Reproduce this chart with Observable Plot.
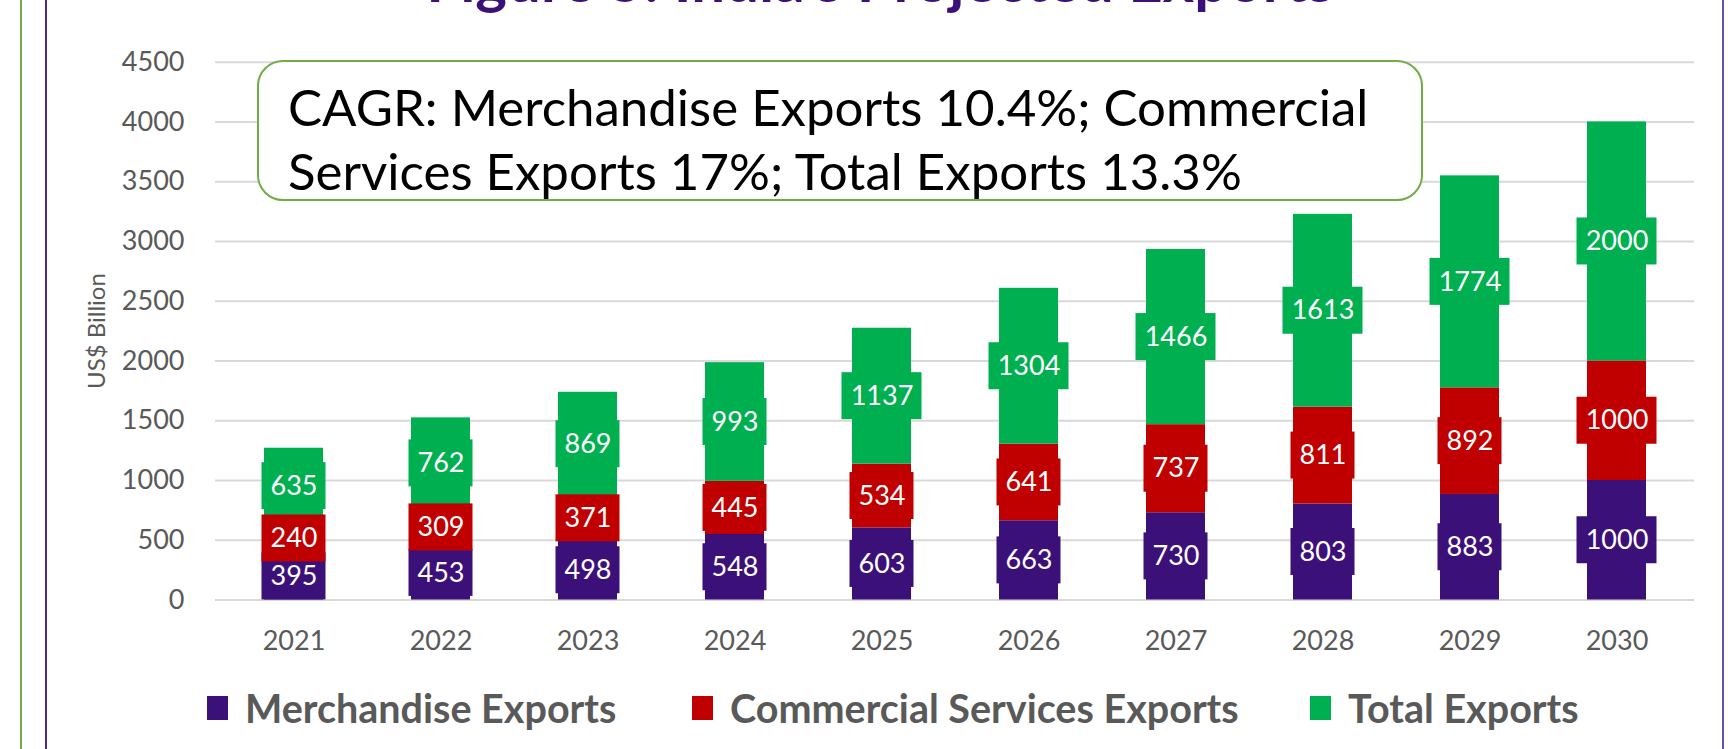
<!DOCTYPE html>
<html>
<head>
<meta charset="utf-8">
<script src="https://cdn.jsdelivr.net/npm/d3@7"></script>
<script src="https://cdn.jsdelivr.net/npm/@observablehq/plot@0.6"></script>
<style>
  html, body { margin: 0; padding: 0; background: #fff; }
  #wrap { position: relative; width: 1736px; height: 749px; overflow: hidden; font-family: Lato, "Open Sans", sans-serif; background: #fff; }
  #chart { position: absolute; left: 0; top: 0; }
  #title { position: absolute; left: 380px; width: 1000px; top: -51px; text-align: center; font: 700 60px/1 Lato, sans-serif; color: #3B1179; white-space: nowrap; }
  #note { position: absolute; left: 257px; top: 60px; width: 1162px; height: 137px; border: 2px solid #70AD47; border-radius: 26px; background: #fff; box-sizing: content-box; }
  #note .l { position: absolute; left: 29px; font: 400 51px/64px Lato, sans-serif; color: #000; white-space: nowrap; }
  .legend-item { position: absolute; top: 688px; height: 40px; display: flex; align-items: center; font: 700 39.5px/40px Lato, sans-serif; color: #595959; white-space: nowrap; }
  .legend-item .sw { width: 21px; height: 24px; margin-right: 17px; flex: none; }
  .vline { position: absolute; top: 0; height: 749px; width: 2px; }
</style>
</head>
<body>
<div id="wrap">
  <div id="chart"></div>
  <div id="title">Figure 5: India's Projected Exports</div>
  <div id="note"></div>
  <div id="legend"></div>
  <div class="vline" style="left:20px;background:#70AD47"></div>
  <div class="vline" style="left:45px;background:#4B2A92"></div>
  <div class="vline" style="left:1722px;background:#6A50AE"></div>
</div>
<script>
// ---- data ----
const years = ["2021", "2022", "2023", "2024", "2025", "2026", "2027", "2028", "2029", "2030"];
const seriesNames = ["Merchandise Exports", "Commercial Services Exports", "Total Exports"];
const merchandise = [395, 453, 498, 548, 603, 663, 730, 803, 883, 1000];
const commercial = [240, 309, 371, 445, 534, 641, 737, 811, 892, 1000];
const totalExports = [635, 762, 869, 993, 1137, 1304, 1466, 1613, 1774, 2000];
const yTicks = [0, 500, 1000, 1500, 2000, 2500, 3000, 3500, 4000, 4500];
const seriesColors = ["#3B1179", "#C00000", "#00B050"];
const noteLines = ["CAGR: Merchandise Exports 10.4%; Commercial", "Services Exports 17%; Total Exports 13.3%"];
const yLabel = "US$ Billion";

// ---- build stacked table ----
const seriesValues = [merchandise, commercial, totalExports];
const rows = [];
years.forEach((yr, i) => {
  let cum = 0;
  seriesNames.forEach((s, k) => {
    const v = seriesValues[k][i];
    rows.push({year: yr, series: s, value: v, y1: cum, y2: cum + v, mid: cum + v / 2});
    cum += v;
  });
});

// label boxes: one mark per series and label width class (drawn in series order)
const boxMarks = [];
seriesNames.forEach(s => {
  [3, 4].forEach(len => {
    const pad = len === 3 ? 2.5 : 10.5;
    boxMarks.push(Plot.barY(rows.filter(d => d.series === s && String(d.value).length === len), {
      x: "year", y1: "mid", y2: "mid", fill: "series",
      insetTop: -23.5, insetBottom: -23.5, insetLeft: -pad, insetRight: -pad
    }));
  });
});

const chart = Plot.plot({
  width: 1736,
  height: 680,
  marginLeft: 215,
  marginRight: 42,
  marginTop: 61.7,
  marginBottom: 80.5,
  style: {fontFamily: "Lato, sans-serif", background: "transparent"},
  x: {type: "band", domain: years, paddingInner: 0.6, paddingOuter: 0.3, label: null},
  y: {domain: [0, 4500], label: null},
  color: {domain: seriesNames, range: seriesColors, legend: false},
  marks: [
    Plot.gridY(yTicks, {stroke: "#D9D9D9", strokeWidth: 2, strokeOpacity: 1}),
    Plot.barY(rows, {x: "year", y1: "y1", y2: "y2", fill: "series"}),
    ...boxMarks,
    Plot.text(rows, {x: "year", y: "mid", text: d => String(d.value), fill: "white", fontSize: 27}),
    Plot.axisX({tickSize: 0, tickPadding: 31, fontSize: 27, color: "#595959", label: null}),
    Plot.axisY({ticks: yTicks, tickFormat: d => String(d), tickSize: 0, tickPadding: 31, fontSize: 27, color: "#595959", label: null}),
    Plot.text([yLabel], {frameAnchor: "left", textAnchor: "middle", text: d => d, rotate: -90, dx: -118, fontSize: 24, fill: "#595959"})
  ]
});
document.getElementById("chart").appendChild(chart);

// ---- annotation ----
const note = document.getElementById("note");
noteLines.forEach((t, i) => {
  const el = document.createElement("div");
  el.className = "l";
  el.style.top = (12.7 + i * 64.3) + "px";
  el.textContent = t;
  note.appendChild(el);
});

// ---- legend ----
const legendLeft = [207, 692, 1310];
const legend = document.getElementById("legend");
seriesNames.forEach((s, i) => {
  const item = document.createElement("div");
  item.className = "legend-item";
  item.style.left = legendLeft[i] + "px";
  const sw = document.createElement("span");
  sw.className = "sw";
  sw.style.background = seriesColors[i];
  const tx = document.createElement("span");
  tx.textContent = s;
  item.appendChild(sw);
  item.appendChild(tx);
  legend.appendChild(item);
});
</script>
</body>
</html>
